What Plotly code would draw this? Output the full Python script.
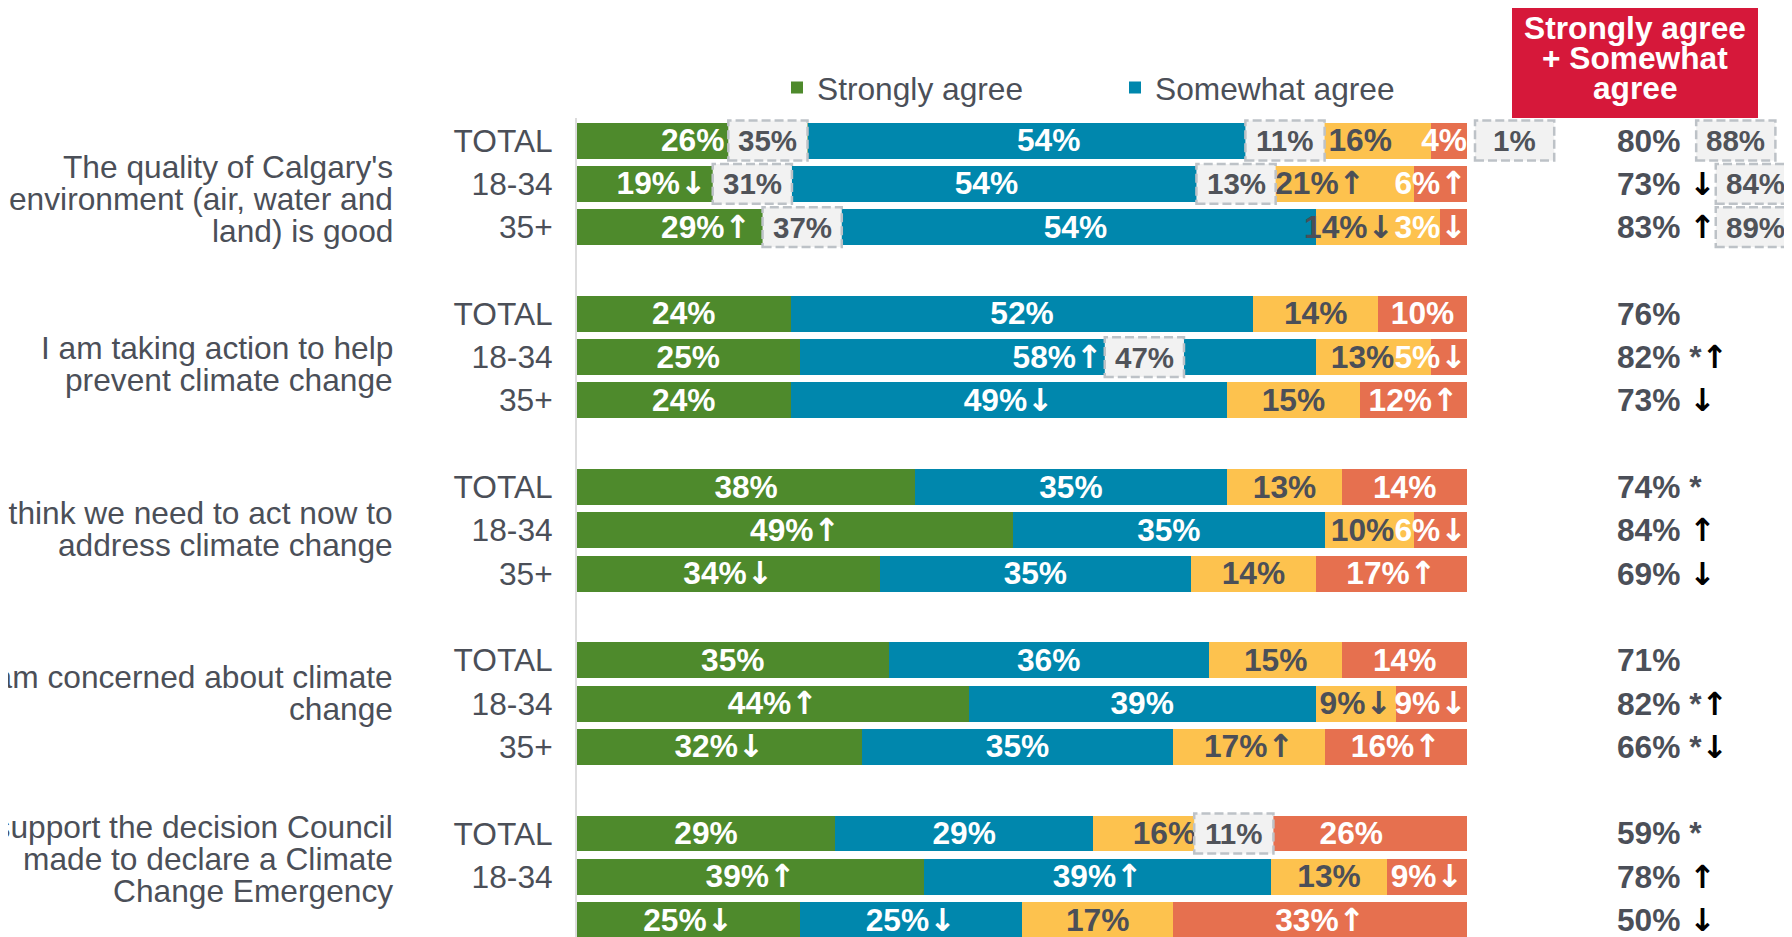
import plotly.graph_objects as go

# ------------------------------------------------------------------ data
questions = [
    ["The quality of Calgary's", "environment (air, water and", "land) is good"],
    ["I am taking action to help", "prevent climate change"],
    ["I think we need to act now to", "address climate change"],
    ["I am concerned about climate", "change"],
    ["I support the decision Council", "made to declare a Climate", "Change Emergency"],
]
segments = ["TOTAL", "18-34", "35+"]

strongly_agree = [[26, 19, 29], [24, 25, 24], [38, 49, 34], [35, 44, 32], [29, 39, 25]]
somewhat_agree = [[54, 54, 54], [52, 58, 49], [35, 35, 35], [36, 39, 35], [29, 39, 25]]
somewhat_disagree = [[16, 21, 14], [14, 13, 15], [13, 10, 14], [15, 9, 17], [16, 13, 17]]
strongly_disagree = [[4, 6, 3], [10, 5, 12], [14, 6, 17], [14, 9, 16], [26, 9, 33]]

strongly_agree_sig = [["", "↓", "↑"], ["", "", ""], ["", "↑", "↓"], ["", "↑", "↓"], ["", "↑", "↓"]]
somewhat_agree_sig = [["", "", ""], ["", "↑", "↓"], ["", "", ""], ["", "", ""], ["", "↑", "↓"]]
somewhat_disagree_sig = [["", "↑", "↓"], ["", "", ""], ["", "", ""], ["", "↓", "↑"], ["", "", ""]]
strongly_disagree_sig = [["", "↑", "↓"], ["", "↓", "↑"], ["", "↓", "↑"], ["", "↓", "↑"], ["", "↓", "↑"]]

net_header = ["Strongly agree", "+ Somewhat", "agree"]
net_agree = [[80, 73, 83], [76, 82, 73], [74, 84, 69], [71, 82, 66], [59, 78, 50]]
net_star = [["", "", ""], ["", "*", ""], ["*", "", ""], ["", "*", "*"], ["*", "", ""]]
net_sig = [["", "↓", "↑"], ["", "↑", "↓"], ["", "↑", "↓"], ["", "↑", "↓"], ["", "↑", "↓"]]

# comparison call-outs (dashed boxes): value text, question index, segment index
callout_text = ["35%", "31%", "37%", "11%", "13%", "1%", "88%", "84%", "89%", "47%", "11%"]
callout_group = [0, 0, 0, 0, 0, 0, 0, 0, 0, 1, 4]
callout_segment = [0, 1, 2, 0, 1, 0, 0, 1, 2, 1, 0]

# ------------------------------------------------------------------ layout / style
PAGE_W, PAGE_H = 1792, 937
BODY_MARGIN = 8                       # browser default body margin
PLOT_L, PLOT_R, PLOT_T, PLOT_B = 577, 1467, 118, 937   # page pixels
Y_TOP, Y_BOTTOM = -0.52, 18.39
FONT = "Liberation Sans, Arial, sans-serif"
ARROW_FONT = "DejaVu Sans"
FS = 31.7
BOX_FS = 29.5
LABEL_DY = 0.06      # small downward nudge of in-bar labels (row units)
TEXT = "#4b4f58"
GREEN, BLUE, YELLOW, ORANGE = "#4e8a2c", "#0087ad", "#fdc24e", "#e6704f"
RED = "#d6183a"

# call-out horizontal centres, in % units of the bar scale
callout_x = [21.45, 19.7, 25.3, 79.55, 74.05, 105.35, 130.2, 132.4, 132.4, 63.75, 73.8]
CALLOUT_W = 8.9      # % units
CALLOUT_H = 0.92     # row units
# vertical offset of question label blocks (row units) and line pitch
question_offset = [0.35, 0.17, -0.02, -0.24, -0.41]
LINE_PITCH = 0.739


def paper_x(px):
    return (px - PLOT_L) / (PLOT_R - PLOT_L)


def paper_y(py):
    return (PLOT_B - py) / (PLOT_B - PLOT_T)


def row_paper(r):
    return (Y_BOTTOM - r) / (Y_BOTTOM - Y_TOP)


def flat(a):
    return [v for grp in a for v in grp]


def arrow(a, color=None):
    if not a:
        return ""
    style = f"font-family:{ARROW_FONT}"
    if color:
        style += f";color:{color}"
    return f"<span style='{style}'>{a}</span>"


rows = [4 * g + s for g in range(len(questions)) for s in range(len(segments))]

series = [
    ("Strongly agree", strongly_agree, strongly_agree_sig, GREEN, "white", True),
    ("Somewhat agree", somewhat_agree, somewhat_agree_sig, BLUE, "white", True),
    ("Somewhat disagree", somewhat_disagree, somewhat_disagree_sig, YELLOW, TEXT, False),
    ("Strongly disagree", strongly_disagree, strongly_disagree_sig, ORANGE, "white", False),
]

fig = go.Figure()

for name, vals, sig, color, tcol, leg in series:
    fig.add_trace(go.Bar(
        x=flat(vals), y=rows, orientation="h", name=name,
        marker=dict(color=color, line=dict(width=0)), width=0.83,
        showlegend=leg, hoverinfo="skip",
    ))

# ---- label positions: centred in segment, pushed left if they would overlap
vals_all = [flat(s[1]) for s in series]
raw_labels = [[f"{v}%{a}" for v, a in zip(flat(s[1]), flat(s[2]))] for s in series]
labels_all = [[f"{v}%{arrow(a)}" for v, a in zip(flat(s[1]), flat(s[2]))] for s in series]


def text_w_pct(t):
    em = sum(0.889 if c == "%" else 0.85 if c in "↑↓" else 0.556 for c in t)
    return em * FS / (PLOT_R - PLOT_L) * 100


n = len(rows)
xs = [[0.0] * n for _ in series]
for i in range(n):
    limit = 100.0
    for k in reversed(range(len(series))):
        start = sum(vals_all[j][i] for j in range(k))
        c = start + vals_all[k][i] / 2
        w = text_w_pct(raw_labels[k][i])
        x = min(c, limit - w / 2)
        xs[k][i] = x
        limit = x - w / 2

label_rows = [r + LABEL_DY for r in rows]
for k, (name, vals, sig, color, tcol, leg) in enumerate(series):
    fig.add_trace(go.Scatter(
        x=xs[k], y=label_rows, mode="text", text=labels_all[k],
        textposition="middle center", cliponaxis=True,
        textfont=dict(family=FONT, size=FS, color=tcol, weight="bold"),
        showlegend=False, hoverinfo="skip",
    ))

shapes = []
annotations = []

# header box
shapes.append(dict(type="rect", xref="paper", yref="paper",
                   x0=paper_x(1512), x1=paper_x(1758), y0=paper_y(118), y1=paper_y(6),
                   fillcolor=RED, line=dict(width=0), layer="above"))
for j, line in enumerate(net_header):
    annotations.append(dict(xref="paper", yref="paper", x=paper_x(1635), y=paper_y(28.3 + 30 * j),
                            text=line, showarrow=False, xanchor="center", yanchor="middle",
                            font=dict(family=FONT, size=FS, color="white", weight="bold")))

# question labels
for g, lines in enumerate(questions):
    mid = 4 * g + 1 + question_offset[g]
    for j, line in enumerate(lines):
        y = mid + (j - (len(lines) - 1) / 2) * LINE_PITCH
        annotations.append(dict(xref="paper", yref="y", x=paper_x(395), y=y, text=line,
                                showarrow=False, xanchor="right", yanchor="middle",
                                font=dict(family=FONT, size=FS, color=TEXT)))

# net agree column
for g in range(len(questions)):
    for s in range(len(segments)):
        t = f"{net_agree[g][s]}%"
        extra = net_star[g][s] + arrow(net_sig[g][s], "#000000")
        if extra:
            t += " " + extra
        annotations.append(dict(xref="paper", yref="y", x=paper_x(1615), y=4 * g + s, text=t,
                                showarrow=False, xanchor="left", yanchor="middle",
                                font=dict(family=FONT, size=FS, color=TEXT, weight="bold")))

# dashed comparison call-outs
for t, g, s, cx in zip(callout_text, callout_group, callout_segment, callout_x):
    r = 4 * g + s
    shapes.append(dict(type="rect", xref="paper", yref="paper",
                       x0=(cx - CALLOUT_W / 2) / 100, x1=(cx + CALLOUT_W / 2) / 100,
                       y0=row_paper(r + CALLOUT_H / 2), y1=row_paper(r - CALLOUT_H / 2),
                       fillcolor="#f2f2f2", line=dict(color="#bdc2c7", width=2.5, dash="9px,4px"),
                       layer="above"))
    annotations.append(dict(xref="paper", yref="paper", x=cx / 100, y=row_paper(r), text=t,
                            showarrow=False, xanchor="center", yanchor="middle",
                            font=dict(family=FONT, size=BOX_FS, color="#505359", weight="bold")))

fig_w = PAGE_W - BODY_MARGIN
fig_h = PAGE_H - BODY_MARGIN
fig.update_layout(
    width=fig_w, height=fig_h,
    margin=dict(l=PLOT_L - BODY_MARGIN, r=PAGE_W - PLOT_R, t=PLOT_T - BODY_MARGIN,
                b=PAGE_H - PLOT_B, autoexpand=False),
    barmode="stack", bargap=0,
    plot_bgcolor="white", paper_bgcolor="white",
    xaxis=dict(range=[0, 100], visible=False, fixedrange=True),
    yaxis=dict(range=[Y_BOTTOM, Y_TOP], tickvals=rows, ticktext=segments * len(questions),
               showgrid=False, zeroline=False, showline=True, linecolor="#dcdcdc", linewidth=2,
               ticks="", ticklabelstandoff=16, fixedrange=True,
               tickfont=dict(family=FONT, size=FS, color=TEXT)),
    legend=dict(orientation="h", x=paper_x(777), xanchor="left", y=paper_y(88), yanchor="middle",
                font=dict(family=FONT, size=FS, color=TEXT), traceorder="normal",
                entrywidth=293, entrywidthmode="pixels", bgcolor="rgba(0,0,0,0)"),
    shapes=shapes, annotations=annotations,
    font=dict(family=FONT, color=TEXT),
)

fig.write_html("out.html")
